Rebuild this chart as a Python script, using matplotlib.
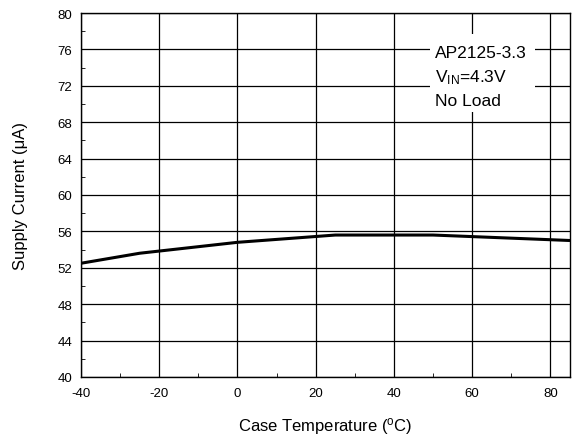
import matplotlib
matplotlib.use("Agg")
import matplotlib.pyplot as plt
from matplotlib.ticker import MultipleLocator
from matplotlib.patches import Rectangle

plt.rcParams['font.family'] = ['Liberation Sans', 'DejaVu Sans']
plt.rcParams['mathtext.fontset'] = 'custom'
plt.rcParams['mathtext.rm'] = 'Liberation Sans'
plt.rcParams['mathtext.it'] = 'Liberation Sans:italic'
plt.rcParams['axes.unicode_minus'] = False

temperature = [-40, -25, 0, 25, 50, 85]
supply_current = [52.5, 53.6, 54.8, 55.6, 55.6, 55.0]
x_ticks = [-40, -20, 0, 20, 40, 60, 80]
y_ticks = [40, 44, 48, 52, 56, 60, 64, 68, 72, 76, 80]
note_lines = ['AP2125-3.3', r'V$_{\rm IN}$=4.3V', 'No Load']

fig = plt.figure(figsize=(5.75, 4.39), dpi=100)
ax = fig.add_axes([81/575, 1 - 378/439, (570-81)/575, (378-14)/439])

ax.plot(temperature, supply_current, color='black', lw=2.2, zorder=3, solid_capstyle='butt')
ax.set_xlim(-40, 85)
ax.set_ylim(40, 80)
ax.set_xticks(x_ticks)
ax.set_yticks(y_ticks)
ax.xaxis.set_minor_locator(MultipleLocator(10))
ax.yaxis.set_minor_locator(MultipleLocator(2))
ax.tick_params(which='both', direction='in', top=False, right=False, labelsize=9.5)
ax.tick_params(axis='x', which='major', length=0, pad=7)
ax.tick_params(axis='y', which='major', length=0, pad=6.5)
ax.tick_params(which='minor', length=3, width=0.6)
ax.grid(True, which='major', color='black', lw=0.9)
for s in ax.spines.values():
    s.set_linewidth(1.0)

ax.set_xlabel(r'Case Temperature ($^{\rm o}$C)', fontsize=12, va='center')
ax.set_ylabel('Supply Current (\u03bcA)', fontsize=12, va='center')
ax.xaxis.set_label_coords(0.5, -0.1346)
ax.yaxis.set_label_coords(-0.1247, 0.5)

ax.add_patch(Rectangle((0.714, 0.728), 0.214, 0.214, transform=ax.transAxes,
                       facecolor='white', edgecolor='none', zorder=4))
for line, yb in zip(note_lines, [0.879, 0.813, 0.747]):
    ax.text(0.724, yb, line, transform=ax.transAxes, fontsize=12.5,
            va='baseline', ha='left', zorder=5)

fig.savefig('out.png', dpi=100)
